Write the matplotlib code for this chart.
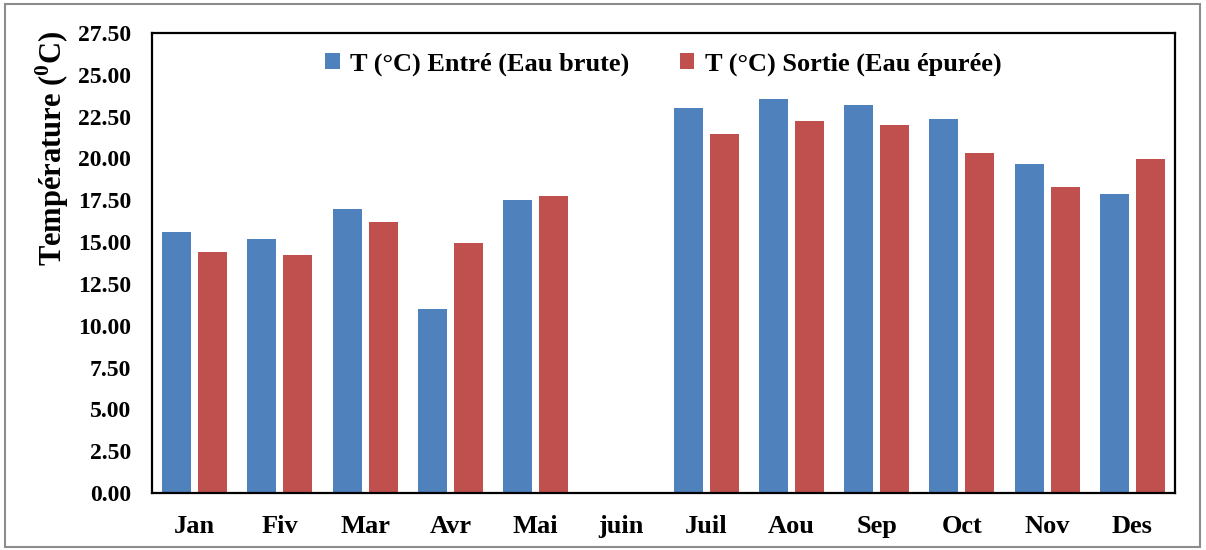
import numpy as np
import matplotlib
matplotlib.use("Agg")
import matplotlib.pyplot as plt
from matplotlib.patches import Rectangle

months = ["Jan", "Fiv", "Mar", "Avr", "Mai", "juin", "Juil", "Aou", "Sep", "Oct", "Nov", "Des"]
t_entree = [15.63, 15.20, 16.95, 11.02, 17.54, np.nan, 22.99, 23.57, 23.21, 22.35, 19.68, 17.90]
t_sortie = [14.43, 14.25, 16.23, 14.97, 17.78, np.nan, 21.44, 22.23, 22.00, 20.34, 18.30, 19.98]
yticks = np.arange(0, 27.51, 2.5)

plt.rcParams["font.family"] = ["Liberation Serif", "DejaVu Serif"]
plt.rcParams["font.weight"] = "bold"
plt.rcParams["mathtext.fontset"] = "custom"
plt.rcParams["mathtext.rm"] = "Liberation Serif:bold"
plt.rcParams["mathtext.bf"] = "Liberation Serif:bold"

fig = plt.figure(figsize=(12.06, 5.5), dpi=100)
ax = fig.add_axes([152 / 1206, 57 / 550, 1023 / 1206, 460 / 550])

x = np.arange(len(months))
w = 0.34
ax.bar(x - 0.21, t_entree, w, color="#4F81BD", label="T (°C) Entré (Eau brute)")
ax.bar(x + 0.21, t_sortie, w, color="#C0504D", label="T (°C) Sortie (Eau épurée)")

ax.set_xlim(-0.5, len(months) - 0.5)
ax.set_ylim(0, 27.5)
ax.set_yticks(yticks)
ax.set_yticklabels([f"{v:.2f}" for v in yticks], fontsize=17, fontweight="bold")
ax.set_xticks(x)
ax.set_xticklabels(months, fontsize=19, fontweight="bold")
ax.tick_params(axis="both", length=0)
ax.tick_params(axis="y", pad=15)
ax.tick_params(axis="x", pad=16)
for s in ax.spines.values():
    s.set_linewidth(1.6)
    s.set_color("black")

fig.text(52 / 1206, 1 - 148 / 550, r"Température ($^{0}$C)", rotation=90,
         ha="center", va="center", fontsize=22, fontweight="bold")

ax.legend(loc="upper center", bbox_to_anchor=(0.5, 1.01), ncol=2, frameon=False,
          prop={"size": 19, "weight": "bold"}, handlelength=0.55, handleheight=0.55,
          handletextpad=0.4, columnspacing=1.9)

fig.patches.append(Rectangle((5 / 1206, 3 / 550), 1195 / 1206, 543 / 550,
                             transform=fig.transFigure, fill=False,
                             edgecolor="#8C8C8C", linewidth=1.5))

fig.savefig("out.png", dpi=100)
